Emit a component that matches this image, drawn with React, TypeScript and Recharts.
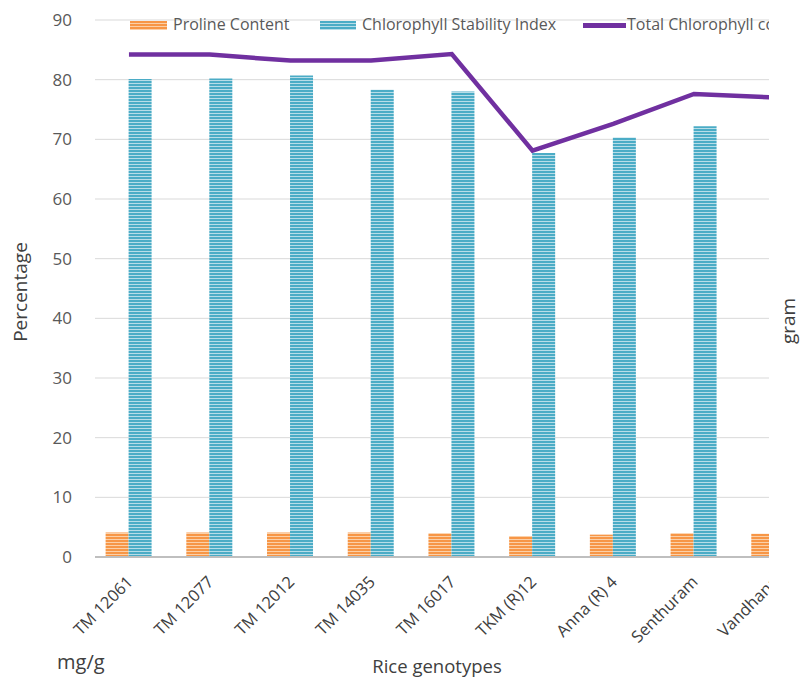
import React from 'react'
import {
  ComposedChart,
  Bar,
  Line,
  XAxis,
  YAxis,
  CartesianGrid,
} from 'recharts'

// values
const genotypes = [
  'TM 12061',
  'TM 12077',
  'TM 12012',
  'TM 14035',
  'TM 16017',
  'TKM (R)12',
  'Anna (R) 4',
  'Senthuram',
  'Vandhana',
]
const proline = [4.1, 4.1, 4.1, 4.1, 4.0, 3.5, 3.75, 4.0, 3.9]
const stability = [80.1, 80.2, 80.7, 78.3, 78.0, 67.7, 70.3, 72.2, 71.5]
const totalChl = [84.2, 84.2, 83.2, 83.2, 84.3, 68.1, 72.6, 77.6, 77.0]
const yTicks = [0, 10, 20, 30, 40, 50, 60, 70, 80, 90]

const data = genotypes.map((g, i) => ({
  name: g,
  proline: proline[i],
  stability: stability[i],
  chl: totalChl[i],
}))

const FONT = '"Open Sans", "DejaVu Sans", sans-serif'

const XTick = ({ x, y, payload }: any) => (
  <text
    x={x + 5}
    y={y + 18}
    transform={`rotate(-45, ${x + 5}, ${y + 18})`}
    textAnchor="end"
    fontSize={16.5}
    fill="#404040"
    fontFamily={FONT}
  >
    {payload.value}
  </text>
)

// legend drawn as plain html on top of the chart, so it does not eat plot space
const ChartLegend = () => (
  <div style={{ position: 'absolute', left: 0, top: 13, width: 815, height: 24, fontSize: 16, color: '#595959' }}>
    <div style={{ position: 'absolute', left: 130, top: 8, width: 37, height: 9, backgroundColor: '#f79646', backgroundImage: 'repeating-linear-gradient(#f79646 0 2px, #fbd0a8 2px 3px)' }} />
    <span style={{ position: 'absolute', left: 173, top: 0, whiteSpace: 'nowrap' }}>Proline Content</span>
    <div style={{ position: 'absolute', left: 320, top: 8, width: 36, height: 9, backgroundColor: '#4bacc6', backgroundImage: 'repeating-linear-gradient(#4bacc6 0 2px, #b7dde8 2px 3px)' }} />
    <span style={{ position: 'absolute', left: 362, top: 0, whiteSpace: 'nowrap' }}>Chlorophyll Stability Index</span>
    <div style={{ position: 'absolute', left: 583, top: 10, width: 43, height: 5, backgroundColor: '#7030a0' }} />
    <span style={{ position: 'absolute', left: 627, top: 0, whiteSpace: 'nowrap' }}>Total Chlorophyll content</span>
  </div>
)

export default function App() {
  return (
    <div style={{ position: 'absolute', left: 0, top: 0, width: 801, height: 677, background: '#fff', fontFamily: FONT, overflow: 'hidden' }}>
      <div style={{ position: 'absolute', left: 0, top: 0, width: 769, height: 677, overflow: 'hidden' }}>
        <ComposedChart
          width={815}
          height={677}
          data={data}
          margin={{ top: 20, right: 0, left: 0, bottom: 40 }}
          barGap={0}
        >
          <defs>
            <pattern id="orangeStripe" width="4" height="3" patternUnits="userSpaceOnUse">
              <rect width="4" height="3" fill="#f79646" />
              <rect y="2" width="4" height="1" fill="#fbd0a8" />
            </pattern>
            <pattern id="blueStripe" width="4" height="3" patternUnits="userSpaceOnUse">
              <rect width="4" height="3" fill="#4bacc6" />
              <rect y="2" width="4" height="1" fill="#b7dde8" />
            </pattern>
          </defs>
          <CartesianGrid vertical={false} stroke="#d9d9d9" />
          <XAxis
            dataKey="name"
            height={80}
            interval={0}
            padding={{ left: -6.4, right: 0 }}
            axisLine={{ stroke: '#bfbfbf', strokeWidth: 2 }}
            tickLine={false}
            tick={<XTick />}
          />
          <YAxis
            width={95}
            domain={[0, 90]}
            ticks={yTicks}
            axisLine={false}
            tickLine={false}
            tickSize={0}
            tickMargin={23}
            tick={{ fontSize: 17, fill: '#595959', fontFamily: FONT }}
          />
          <Bar dataKey="proline" name="Proline Content" barSize={23} fill="url(#orangeStripe)" isAnimationActive={false} />
          <Bar dataKey="stability" name="Chlorophyll Stability Index" barSize={23} fill="url(#blueStripe)" isAnimationActive={false} />
          <Line
            dataKey="chl"
            name="Total Chlorophyll content"
            type="linear"
            stroke="#7030a0"
            strokeWidth={4.5}
            dot={false}
            activeDot={false}
            isAnimationActive={false}
          />
        </ComposedChart>
        <ChartLegend />
      </div>
      <div style={{ position: 'absolute', left: 20, top: 292, transform: 'translate(-50%, -50%) rotate(-90deg)', fontSize: 19, color: '#404040', whiteSpace: 'nowrap' }}>
        Percentage
      </div>
      <div style={{ position: 'absolute', left: 57, top: 648, fontSize: 20, color: '#404040' }}>mg/g</div>
      <div style={{ position: 'absolute', left: 437, top: 665, transform: 'translate(-50%, -50%)', fontSize: 18.5, color: '#404040', whiteSpace: 'nowrap' }}>
        Rice genotypes
      </div>
      <div style={{ position: 'absolute', left: 788, top: 321, transform: 'translate(-50%, -50%) rotate(-90deg)', fontSize: 19, color: '#404040', whiteSpace: 'nowrap' }}>
        gram
      </div>
    </div>
  )
}
